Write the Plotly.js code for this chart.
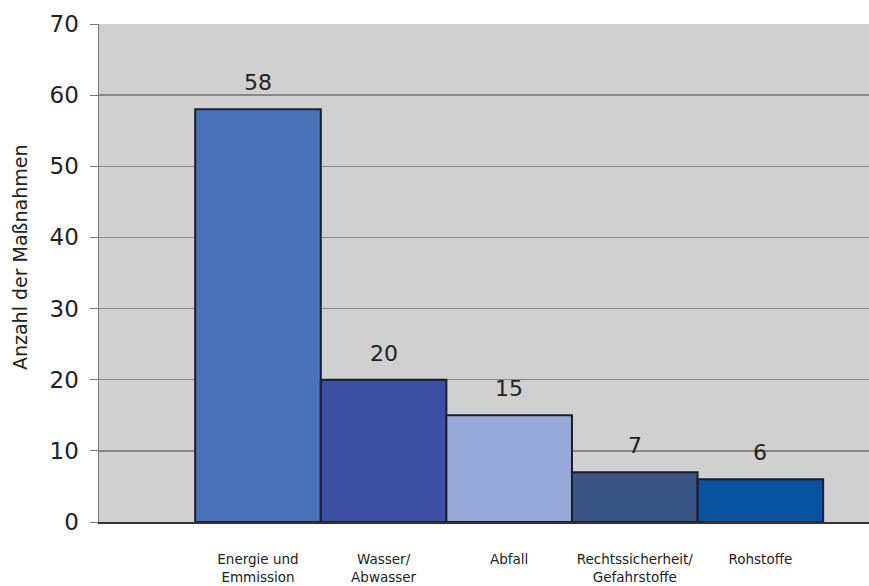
<!DOCTYPE html>
<html>
<head>
<meta charset="utf-8">
<script src="https://cdn.plot.ly/plotly-3.0.1.min.js"></script>
<style>html,body{margin:0;padding:0;background:#fff;}#chart{width:869px;height:586px;}</style>
</head>
<body>
<div id="chart"></div>
<script>
const categories = ["Energie und<br>Emmission", "Wasser/<br>Abwasser", "Abfall", "Rechtssicherheit/<br>Gefahrstoffe", "Rohstoffe"];
const values = [58, 20, 15, 7, 6];
const barColors = ["#4a72b8", "#3d4fa2", "#97a9d8", "#3a5584", "#0852a0"];
const yTicks = [0, 10, 20, 30, 40, 50, 60, 70];
const yTitle = "Anzahl der Maßnahmen";

const FONT = "DejaVu Sans, Liberation Sans, Arial, sans-serif";

const trace = {
  type: "bar",
  x: categories,
  y: values,
  width: 1,
  marker: { color: barColors, line: { color: "#1a1f2e", width: 2 } },
  hoverinfo: "none"
};

const annotations = categories.map((c, i) => ({
  x: c, y: values[i], xref: "x", yref: "y",
  text: String(values[i]), showarrow: false,
  yanchor: "bottom", yshift: 12,
  font: { family: FONT, size: 22, color: "#222" }
}));

annotations.push({
  xref: "paper", yref: "paper", x: 0, y: 0.532,
  xanchor: "center", yanchor: "middle", xshift: -79,
  text: yTitle, textangle: -90, showarrow: false,
  font: { family: FONT, size: 19, color: "#222" }
});

const layout = {
  width: 869, height: 586,
  margin: { l: 99, r: 0, t: 24, b: 64, pad: 0 },
  paper_bgcolor: "#ffffff",
  plot_bgcolor: "#d0d0d0",
  showlegend: false,
  bargap: 0,
  font: { family: FONT, color: "#222" },
  xaxis: {
    type: "category",
    range: [-1.266, 4.865],
    showgrid: false,
    zeroline: false,
    showline: true, linecolor: "#333", linewidth: 2,
    ticks: "",
    tickfont: { size: 13.5, color: "#222" },
    ticklabelstandoff: 24
  },
  yaxis: {
    range: [0, 70],
    tickvals: yTicks,
    showgrid: true, gridcolor: "#888", gridwidth: 1.5,
    zeroline: false,
    showline: true, linecolor: "#777", linewidth: 1.5,
    ticks: "outside", ticklen: 8, tickcolor: "#777",
    tickfont: { size: 23, color: "#222" },
    ticklabelstandoff: 6
  },
  annotations: annotations
};

Plotly.newPlot("chart", [trace], layout, { displayModeBar: false, staticPlot: true });
</script>
</body>
</html>
